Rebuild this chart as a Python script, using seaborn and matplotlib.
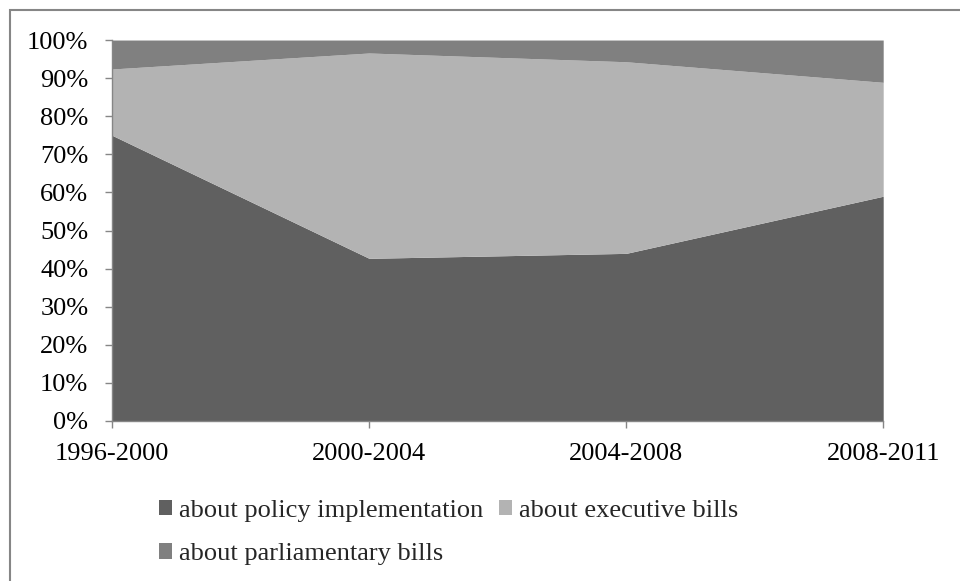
import numpy as np
import pandas as pd
import matplotlib
matplotlib.use('Agg')
import matplotlib.pyplot as plt
import seaborn as sns

periods = ['1996-2000', '2000-2004', '2004-2008', '2008-2011']
policy = [75.0, 42.7, 44.0, 59.0]
executive = [17.4, 53.9, 50.3, 29.9]
parliament = [7.6, 3.4, 5.7, 11.1]
labels = ['about policy implementation', 'about executive bills', 'about parliamentary bills']
colors = ['#606060', '#b3b3b3', '#808080']

data = pd.DataFrame({labels[0]: policy, labels[1]: executive, labels[2]: parliament}, index=periods)

sns.set_theme(style='white')
plt.rcParams['font.family'] = ['Liberation Serif', 'DejaVu Serif']

fig = plt.figure(figsize=(9.6, 5.81), dpi=100)
ax = fig.add_axes([0.1167, 0.2754, 0.8033, 0.6557])

x = np.arange(len(periods))
polys = ax.stackplot(x, data[labels[0]], data[labels[1]], data[labels[2]],
                     colors=colors, labels=labels, linewidth=0)

ax.set_xlim(0, len(periods) - 1)
ax.set_ylim(0, 100)
ax.set_xticks(x)
ax.set_xticklabels(periods, fontsize=19, color='black')
ax.set_yticks(np.arange(0, 101, 10))
ax.set_yticklabels([f'{v}%' for v in range(0, 101, 10)], fontsize=19, color='black')
ax.tick_params(axis='both', direction='out', length=5, width=1, color='#868686',
               bottom=True, left=True)
ax.tick_params(axis='y', pad=12)
ax.tick_params(axis='x', pad=11)

for side in ['top', 'right']:
    ax.spines[side].set_visible(False)
for side in ['left', 'bottom']:
    ax.spines[side].set_color('#868686')
    ax.spines[side].set_linewidth(1)

# legend: column-first filling, so reorder to get policy/executive on row one
handles = [polys[0], polys[2], polys[1]]
names = [labels[0], labels[2], labels[1]]
fig.legend(handles, names, ncol=2, loc='upper left', bbox_to_anchor=(0.1656, 0.139),
           frameon=False, fontsize=19, handlelength=0.5, handleheight=0.5,
           handletextpad=0.25, columnspacing=0.6, labelspacing=0.8,
           borderpad=0, borderaxespad=0)

# outer chart frame (left and top edges show, the rest falls outside)
fig.patches.append(plt.Rectangle((10 / 960, -0.1), 1.0, 1.1 - 10 / 581,
                                 transform=fig.transFigure, fill=False,
                                 edgecolor='#868686', linewidth=1.5))

fig.savefig('out.png', dpi=100)
